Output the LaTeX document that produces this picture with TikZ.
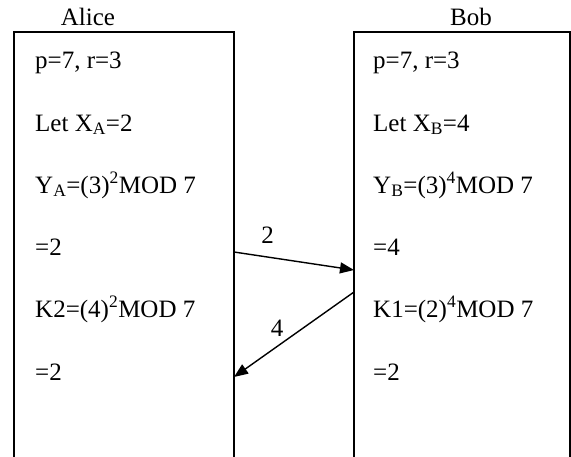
\documentclass[tikz,border=0pt]{standalone}
\usepackage{fontspec}
\setmainfont{Liberation Serif}
\usetikzlibrary{arrows.meta}
\tikzset{
  party/.style={draw, line width=1.6pt, outer sep=0pt, inner sep=0pt,
                minimum height=440pt, anchor=north west},
  calc/.style={inner sep=0pt, anchor=base west, font=\fontsize{25}{30}\selectfont},
  partyname/.style={inner sep=0pt, anchor=base, font=\fontsize{25}{30}\selectfont},
  msg/.style={line width=1.4pt, -{Triangle[length=14pt, width=11pt]}},
  msglabel/.style={inner sep=3pt, font=\fontsize{25}{30}\selectfont},
}

\begin{document}
\begin{tikzpicture}[x=1pt, y=-1pt]
    \useasboundingbox (0,0) rectangle (571,456);
    % the two parties
    \node[party, minimum width=220pt] (alice) at (14,32) {};
    \node[party, minimum width=216pt] (bob) at (354,32) {};
    \node[partyname] (alicename) at (88,25) {Alice};
    \node[partyname] (bobname) at (471,25) {Bob};
    % Alice's side
    \node[calc] (a1) at (35,68) {p=7, r=3};
    \node[calc] (a2) at (35,131) {Let X\textsubscript{A}=2};
    \node[calc] (a3) at (35,193) {Y\textsubscript{A}=(3)\textsuperscript{2}MOD 7};
    \node[calc] (a4) at (35,255) {=2};
    \node[calc] (a5) at (35,317) {K2=(4)\textsuperscript{2}MOD 7};
    \node[calc] (a6) at (35,380) {=2};
    % Bob's side
    \node[calc] (b1) at (373,68) {p=7, r=3};
    \node[calc] (b2) at (373,131) {Let X\textsubscript{B}=4};
    \node[calc] (b3) at (373,193) {Y\textsubscript{B}=(3)\textsuperscript{4}MOD 7};
    \node[calc] (b4) at (373,255) {=4};
    \node[calc] (b5) at (373,317) {K1=(2)\textsuperscript{4}MOD 7};
    \node[calc] (b6) at (373,380) {=2};
    % exchanged values
    \coordinate (sendA) at ([yshift=-220pt]alice.north east);
    \coordinate (recvB) at ([yshift=-238pt]bob.north west);
    \coordinate (sendB) at ([yshift=-260pt]bob.north west);
    \coordinate (recvA) at ([yshift=-345pt]alice.north east);
    \draw[msg] (sendA) -- node[msglabel, pos=0.28, above=10pt] {2} (recvB);
    \draw[msg] (sendB) -- node[msglabel, pos=0.64, above=6pt] {4} (recvA);
\end{tikzpicture}
\end{document}
